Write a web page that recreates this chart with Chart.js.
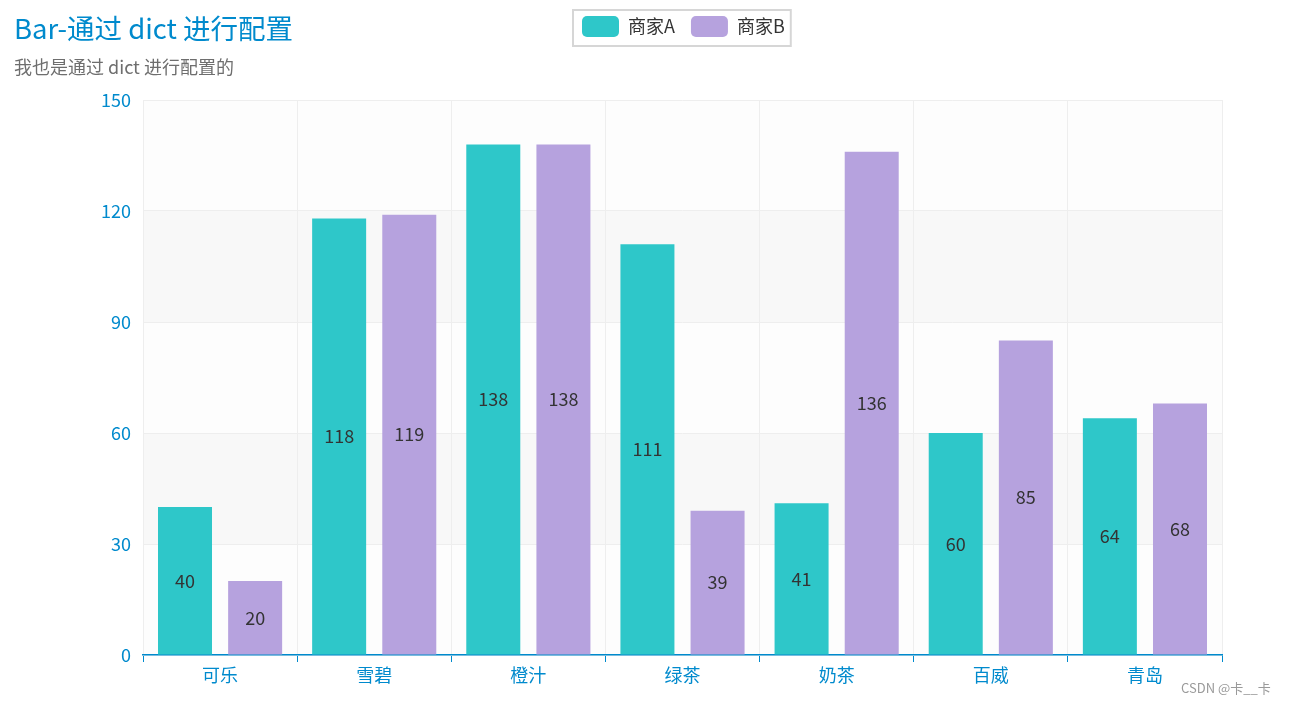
<!DOCTYPE html>
<html>
<head>
<meta charset="utf-8">
<script src="https://cdn.jsdelivr.net/npm/chart.js@4.4.1/dist/chart.umd.min.js"></script>
<style>
  body { margin: 0; background: #fff; }
  #wrap { position: relative; width: 1289px; height: 704px; font-family: "Noto Sans CJK SC", "Noto Sans", sans-serif; }
  #title { position: absolute; left: 14px; top: 14px; font-size: 27.5px; line-height: 1; color: #008acd; white-space: nowrap; }
  #subtitle { position: absolute; left: 14px; top: 57px; font-size: 18px; line-height: 1; color: #6e6e6e; white-space: nowrap; }
  #mark { position: absolute; left: 1181px; top: 681px; font-size: 13px; line-height: 1; color: #9a9a9a; white-space: nowrap; }
</style>
</head>
<body>
<div id="wrap">
  <canvas id="barChart" width="1289" height="704"></canvas>
  <div id="title">Bar-通过 dict 进行配置</div>
  <div id="subtitle">我也是通过 dict 进行配置的</div>
  <div id="mark">CSDN @卡__卡</div>
</div>
<script>
// chart data
var categories = ['可乐', '雪碧', '橙汁', '绿茶', '奶茶', '百威', '青岛'];
var seriesNames = ['商家A', '商家B'];
var valuesA = [40, 118, 138, 111, 41, 60, 64];
var valuesB = [20, 119, 138, 39, 136, 85, 68];
var yMin = 0, yMax = 150, yStep = 30;

var FONT = '"Noto Sans CJK SC", "Noto Sans", sans-serif';
var BLUE = '#008acd';

// alternating background bands between y ticks
var splitArea = {
    id: 'splitArea',
    beforeDraw: function (chart) {
        var ctx = chart.ctx, area = chart.chartArea, y = chart.scales.y;
        var ticks = y.ticks;
        ctx.save();
        for (var i = 0; i < ticks.length - 1; i++) {
            var top = y.getPixelForValue(ticks[i + 1].value);
            var bottom = y.getPixelForValue(ticks[i].value);
            ctx.fillStyle = i % 2 === 0 ? 'rgba(250,250,250,0.3)' : 'rgba(200,200,200,0.12)';
            ctx.fillRect(area.left, top, area.right - area.left, bottom - top);
        }
        ctx.restore();
    }
};

// values printed in the middle of each bar
var barLabels = {
    id: 'barLabels',
    afterDatasetsDraw: function (chart) {
        var ctx = chart.ctx;
        ctx.save();
        ctx.font = '18px ' + FONT;
        ctx.fillStyle = '#333';
        ctx.textAlign = 'center';
        ctx.textBaseline = 'middle';
        chart.data.datasets.forEach(function (ds, i) {
            chart.getDatasetMeta(i).data.forEach(function (bar, j) {
                ctx.fillText(ds.data[j], bar.x, (bar.y + bar.base) / 2);
            });
        });
        ctx.restore();
    }
};

// move the legend up to the title row and frame it
var legendBox = {
    id: 'legendBox',
    afterLayout: function (chart) {
        var lg = chart.legend;
        var pad = lg.options.labels.padding;
        var start = (lg.left + pad + lg.right - lg.lineWidths[0]) / 2;
        var shift = 582 - start;
        var h = lg.height;
        lg.left += shift;
        lg.right += shift;
        lg.top = 0;
        lg.bottom = h;
    },
    afterDraw: function (chart) {
        var hb = chart.legend.legendHitBoxes;
        if (!hb || !hb.length) return;
        var last = hb[hb.length - 1];
        var ctx = chart.ctx;
        var x0 = hb[0].left - 9, x1 = last.left + last.width + 6;
        var y0 = hb[0].top - 6, y1 = hb[0].top + hb[0].height + 9;
        ctx.save();
        ctx.strokeStyle = '#d6d6d6';
        ctx.lineWidth = 2;
        ctx.strokeRect(x0, y0, x1 - x0, y1 - y0);
        ctx.restore();
    }
};

new Chart(document.getElementById('barChart'), {
    type: 'bar',
    data: {
        labels: categories,
        datasets: [{
            label: seriesNames[0],
            data: valuesA,
            backgroundColor: '#2ec7c9',
            borderWidth: 0,
            categoryPercentage: 0.91,
            barPercentage: 0.77
        }, {
            label: seriesNames[1],
            data: valuesB,
            backgroundColor: '#b6a2de',
            borderWidth: 0,
            categoryPercentage: 0.91,
            barPercentage: 0.77
        }]
    },
    options: {
        responsive: false,
        animation: false,
        devicePixelRatio: 1,
        layout: { padding: { top: 53, left: 0, right: 67, bottom: 0 } },
        plugins: {
            tooltip: { enabled: false },
            legend: {
                position: 'top',
                labels: {
                    boxWidth: 37,
                    boxHeight: 21,
                    useBorderRadius: true,
                    borderRadius: 5,
                    padding: 16,
                    color: '#333',
                    font: { size: 18, family: FONT }
                }
            }
        },
        scales: {
            x: {
                grid: { color: '#eee', tickColor: BLUE, tickLength: 7 },
                border: { color: BLUE, width: 1.5 },
                ticks: { color: BLUE, padding: 2, font: { size: 18, family: FONT } },
                afterFit: function (scale) { scale.height = 49; }
            },
            y: {
                min: yMin,
                max: yMax,
                grid: { color: '#eee', drawTicks: false },
                border: { display: false },
                ticks: { stepSize: yStep, color: BLUE, padding: 12, font: { size: 18, family: FONT } },
                afterFit: function (scale) { scale.width = 143; }
            }
        }
    },
    plugins: [splitArea, barLabels, legendBox]
});
</script>
</body>
</html>
